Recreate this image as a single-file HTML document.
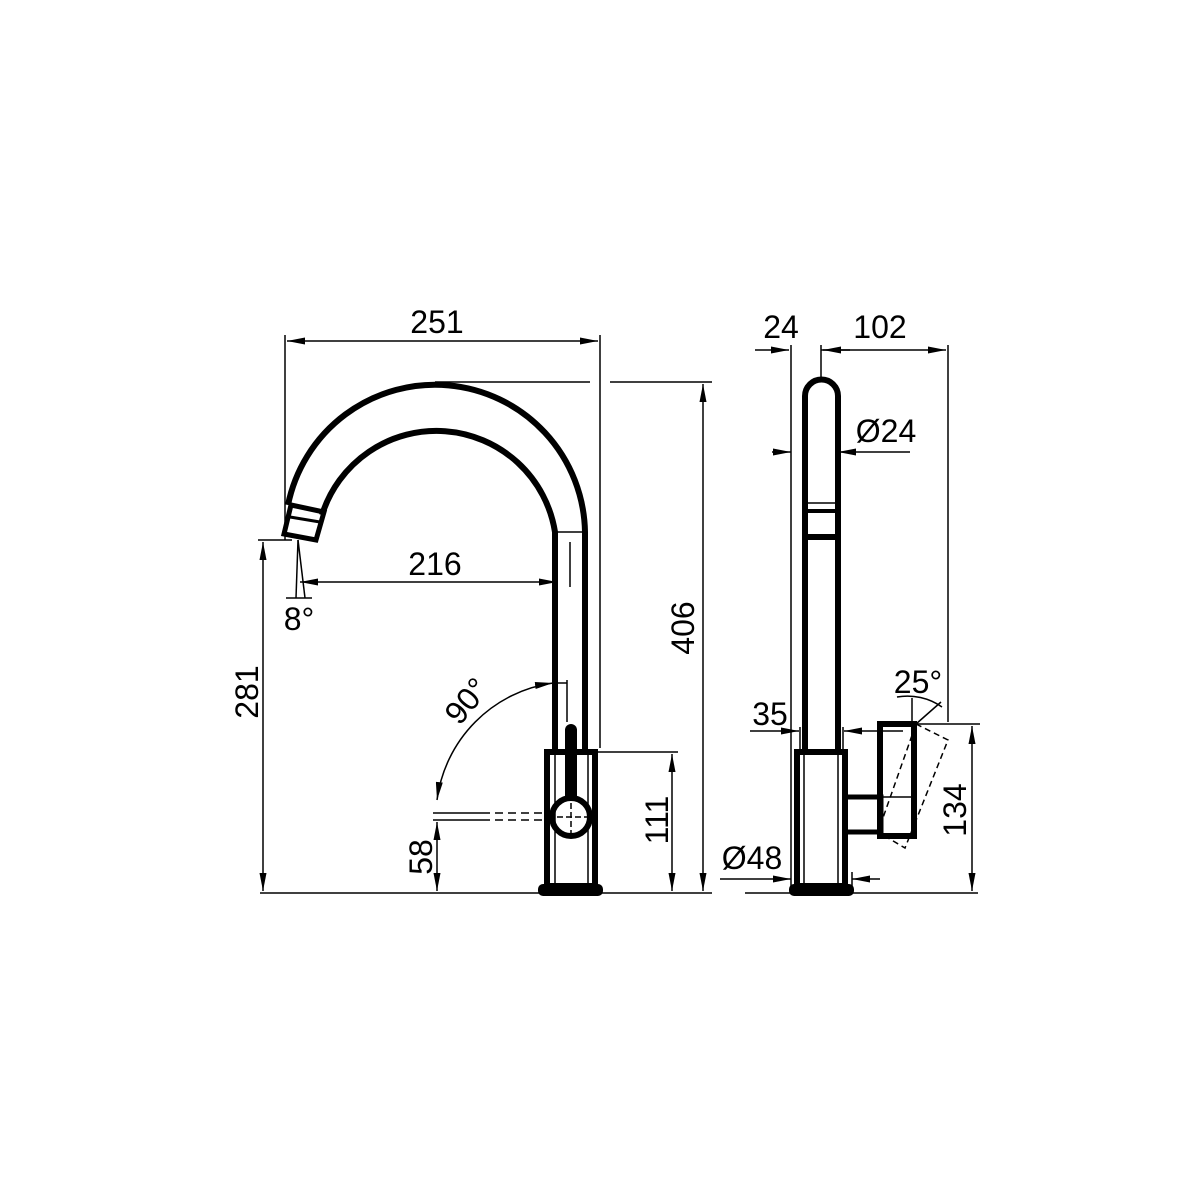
<!DOCTYPE html>
<html><head><meta charset="utf-8"><style>html,body{margin:0;padding:0;background:#fff}svg{display:block}text{font-family:"Liberation Sans",sans-serif;font-size:32px;fill:#000}</style></head><body>
<svg width="1200" height="1200" viewBox="0 0 1200 1200" xmlns="http://www.w3.org/2000/svg">
<defs>
<marker id="a" viewBox="0 0 18 7" refX="18" refY="3.5" markerWidth="18" markerHeight="7" markerUnits="userSpaceOnUse" orient="auto"><path d="M0,0L18,3.5L0,7z" fill="#000"/></marker>
<marker id="s" viewBox="0 0 18 7" refX="18" refY="3.5" markerWidth="18" markerHeight="7" markerUnits="userSpaceOnUse" orient="auto-start-reverse"><path d="M0,0L18,3.5L0,7z" fill="#000"/></marker>
</defs>
<g stroke="#000" fill="none" stroke-width="1.5">
<line x1="285" y1="335" x2="285" y2="540"/>
<line x1="600" y1="335" x2="600" y2="748"/>
<line x1="287" y1="341" x2="598" y2="341" marker-start="url(#s)" marker-end="url(#a)"/>
<line x1="435" y1="382" x2="590" y2="382"/>
<line x1="610" y1="382" x2="712" y2="382"/>
<line x1="703" y1="384" x2="703" y2="891" marker-start="url(#s)" marker-end="url(#a)"/>
<line x1="260" y1="893" x2="712" y2="893"/>
<line x1="258" y1="540" x2="292" y2="540"/>
<line x1="263" y1="542" x2="263" y2="891" marker-start="url(#s)" marker-end="url(#a)"/>
<line x1="300" y1="582" x2="557" y2="582" marker-start="url(#s)" marker-end="url(#a)"/>
<line x1="570" y1="542" x2="570" y2="587"/>
<line x1="555" y1="532" x2="585" y2="532"/>
<line x1="298" y1="540" x2="296" y2="598"/>
<line x1="298" y1="540" x2="305" y2="598"/>
<line x1="286" y1="598" x2="312" y2="598"/>
<line x1="433" y1="813" x2="482" y2="813"/>
<line x1="433" y1="820" x2="482" y2="820"/>
<line x1="482" y1="813" x2="547" y2="813" stroke-dasharray="8,5"/>
<line x1="482" y1="820" x2="547" y2="820" stroke-dasharray="8,5"/>
<line x1="437" y1="822" x2="437" y2="891" marker-start="url(#s)" marker-end="url(#a)"/>
<path d="M437,800 A136,136 0 0 1 553,683" marker-start="url(#s)" marker-end="url(#a)"/>
<line x1="553" y1="683" x2="567" y2="683"/>
<line x1="567" y1="680" x2="567" y2="722"/>
<line x1="597" y1="752" x2="678" y2="752"/>
<line x1="672" y1="754" x2="672" y2="891" marker-start="url(#s)" marker-end="url(#a)"/>
<line x1="791" y1="345" x2="791" y2="893"/>
<line x1="821" y1="345" x2="821" y2="380"/>
<line x1="948" y1="345" x2="948" y2="722"/>
<line x1="755" y1="350" x2="789" y2="350" marker-end="url(#a)"/>
<line x1="850" y1="350" x2="823" y2="350" marker-end="url(#a)"/>
<line x1="821" y1="350" x2="946" y2="350" marker-end="url(#a)"/>
<line x1="772" y1="452" x2="791" y2="452" marker-end="url(#a)"/>
<line x1="910" y1="452" x2="838" y2="452" marker-end="url(#a)"/>
<line x1="750" y1="731" x2="799" y2="731" marker-end="url(#a)"/>
<line x1="903" y1="731" x2="844" y2="731" marker-end="url(#a)"/>
<line x1="800" y1="727" x2="800" y2="752"/>
<line x1="843" y1="727" x2="843" y2="752"/>
<line x1="720" y1="879" x2="791" y2="879" marker-end="url(#a)"/>
<line x1="880" y1="879" x2="852" y2="879" marker-end="url(#a)"/>
<line x1="852" y1="872" x2="852" y2="886"/>
<line x1="745" y1="893" x2="978" y2="893"/>
<line x1="914" y1="724" x2="980" y2="724"/>
<line x1="972" y1="726" x2="972" y2="891" marker-start="url(#s)" marker-end="url(#a)"/>
<line x1="912" y1="698" x2="912" y2="722"/>
<line x1="916" y1="724" x2="941" y2="702"/>
<path d="M897,697 A60,60 0 0 1 942,707"/>
<polygon points="916,724 948,740 905,848 878,832" stroke-dasharray="6,4"/>
</g>
<g stroke="#000" fill="none" stroke-width="6">
<path d="M585,750 L585,532 A150,150 0 0 0 288,505"/>
<path d="M555,750 L555,532 A120,120 0 0 0 322,515"/>
<polygon points="291,505 324,512 316,540 284,534" stroke-width="5"/>
<line x1="290" y1="517" x2="320" y2="522" stroke-width="3"/>
<rect x="547" y="752" width="48" height="134"/>
<line x1="571" y1="730" x2="571" y2="800" stroke-width="12" stroke-linecap="round"/>
<circle cx="571" cy="817" r="19" fill="#fff"/>
<path d="M805,752 L805,396 A16.5,16.5 0 0 1 838,396 L838,752"/>
<line x1="805" y1="511" x2="838" y2="511" stroke-width="4"/>
<line x1="805" y1="537" x2="838" y2="537" stroke-width="6"/>
<rect x="797" y="752" width="48" height="134"/>
<rect x="845" y="797" width="36" height="35" stroke-width="5"/>
<rect x="880" y="724" width="34" height="112"/>
</g>
<g stroke="#000" stroke-width="1.5" fill="none">
<line x1="806" y1="503" x2="837" y2="503"/>
<line x1="555" y1="755" x2="555" y2="884"/>
<line x1="588" y1="755" x2="588" y2="884"/>
<line x1="804" y1="755" x2="804" y2="884"/>
<line x1="838" y1="755" x2="838" y2="884"/>
<line x1="880" y1="797" x2="914" y2="797"/>
<line x1="557" y1="817" x2="587" y2="817" stroke-dasharray="6,3"/>
<line x1="571" y1="803" x2="571" y2="838" stroke-dasharray="6,3"/>
</g>
<rect x="538" y="884" width="65" height="12" rx="5" fill="#000"/>
<rect x="789" y="884" width="65" height="12" rx="5" fill="#000"/>
<text x="437" y="333" text-anchor="middle">251</text>
<text x="435" y="575" text-anchor="middle">216</text>
<text x="299" y="630" text-anchor="middle">8°</text>
<text transform="translate(258,692) rotate(-90)" text-anchor="middle">281</text>
<text transform="translate(694,628) rotate(-90)" text-anchor="middle">406</text>
<text transform="translate(668,820) rotate(-90)" text-anchor="middle">111</text>
<text transform="translate(432,857) rotate(-90)" text-anchor="middle">58</text>
<text transform="translate(475,708) rotate(-50)" text-anchor="middle">90°</text>
<text x="781" y="338" text-anchor="middle">24</text>
<text x="880" y="338" text-anchor="middle">102</text>
<text x="886" y="442" text-anchor="middle">Ø24</text>
<text x="770" y="725" text-anchor="middle">35</text>
<text x="918" y="693" text-anchor="middle">25°</text>
<text x="752" y="869" text-anchor="middle">Ø48</text>
<text transform="translate(966,810) rotate(-90)" text-anchor="middle">134</text>
</svg>
</body></html>
